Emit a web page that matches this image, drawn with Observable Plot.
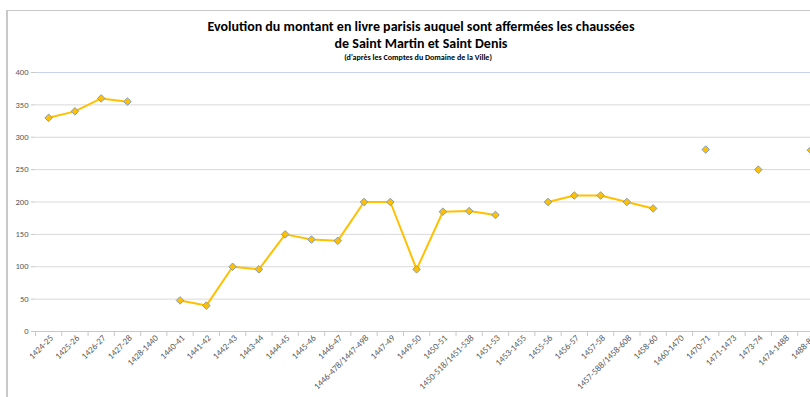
<!DOCTYPE html>
<html>
<head>
<meta charset="utf-8">
<script src="https://cdn.jsdelivr.net/npm/d3@7"></script>
<script src="https://cdn.jsdelivr.net/npm/@observablehq/plot@0.6"></script>
<style>
  html, body { margin: 0; padding: 0; background: #fff; overflow: hidden; width: 810px; height: 397px; }
  #frame { position: absolute; left: 6px; top: 10px; width: 820px; height: 400px; border-top: 1px solid #c8c8c8; border-left: 2px solid #c8c8c8; }
  .t { position: absolute; text-align: center; font-family: Carlito, Lato, "Open Sans", sans-serif; font-weight: bold; color: #000; white-space: nowrap; }
  #t1 { left: 121px; width: 600px; top: 18px; font-size: 14px; }
  #t2 { left: 121px; width: 600px; top: 35px; font-size: 14px; }
  #t3 { left: 118px; width: 600px; top: 52px; font-size: 8px; }
  #chart { position: absolute; left: 0; top: 62px; }
</style>
</head>
<body>
<div id="frame"></div>
<div class="t" id="t1">Evolution du montant en livre parisis auquel sont affermées les chaussées</div>
<div class="t" id="t2">de Saint Martin et Saint Denis</div>
<div class="t" id="t3">(d'après les Comptes du Domaine de la Ville)</div>
<div id="chart"></div>
<script>
const periods = ["1424-25","1425-26","1426-27","1427-28","1428-1440","1440-41","1441-42","1442-43","1443-44","1444-45","1445-46","1446-47","1446-478/1447-498","1447-49","1449-50","1450-51","1450-518/1451-538","1451-53","1453-1455","1455-56","1456-57","1457-58","1457-588/1458-608","1458-60","1460-1470","1470-71","1471-1473","1473-74","1474-1488","1488-89"];
const montants = [330,340,360,355,null,48,40,100,96,150,142,140,200,200,96,185,186,180,null,200,210,210,200,190,null,281,null,250,null,280];
const yTicks = [0,50,100,150,200,250,300,350,400];

const data = periods.map((p, i) => ({periode: p, montant: montants[i]}));
const pts = data.filter(d => d.montant != null);

const W = 810, H = 335, ML = 35, MR = -13.5;
const bw = (W - MR - ML) / periods.length;

const chart = Plot.plot({
  width: W, height: H,
  marginLeft: ML, marginRight: MR, marginTop: 10, marginBottom: 66,
  style: {fontFamily: "Carlito, Lato, 'Open Sans', sans-serif", fontSize: "8.5px", color: "#595959", background: "transparent"},
  x: {type: "band", domain: periods, padding: 0, round: false},
  y: {domain: [0, 400]},
  marks: [
    Plot.gridY(yTicks.filter(v => v > 0 && v < 400), {stroke: "#d9d9d9", strokeOpacity: 1}),
    Plot.ruleY([400], {stroke: "#c6d3e8", strokeWidth: 1.2}),
    Plot.ruleY([0], {stroke: "#c8c8c8"}),
    Plot.axisY({ticks: yTicks, tickSize: 4, tickPadding: 3, stroke: "#c8c8c8", label: null, fill: "#595959"}),
    Plot.axisX({tickSize: 5, dx: -bw / 2, tickFormat: () => "", stroke: "#c8c8c8", label: null}),
    Plot.axisX({tickSize: 0, tickRotate: -45, tickPadding: 5, dx: 3, label: null, fill: "#595959", fontSize: 9}),
    Plot.line(data, {x: "periode", y: "montant", stroke: "#FFC000", strokeWidth: 2}),
    Plot.dot(pts, {x: "periode", y: "montant", symbol: "diamond2", r: 3.4, fill: "#FFC000", stroke: "#7f9cc4", strokeWidth: 1})
  ]
});
document.getElementById("chart").appendChild(chart);
</script>
</body>
</html>
